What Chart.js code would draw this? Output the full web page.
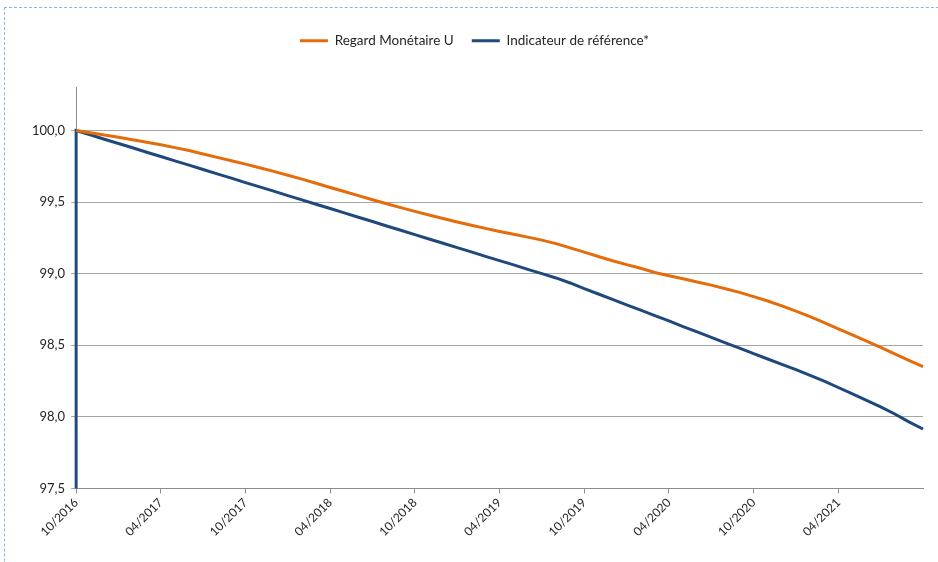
<!DOCTYPE html>
<html>
<head>
<meta charset="utf-8">
<script src="https://cdn.jsdelivr.net/npm/chart.js@4.4.1/dist/chart.umd.min.js"></script>
<style>
  html, body { margin: 0; padding: 0; background: #fff; }
  #wrap { position: relative; width: 938px; height: 562px; overflow: hidden; }
  #frame { position: absolute; left: 4px; top: 7px; width: 1000px; height: 700px;
           border-top: 1px dashed #8db3e2; border-left: 1px dashed #8db3e2; box-sizing: border-box; }
  canvas { position: absolute; left: 0; top: 0; }
</style>
</head>
<body>
<div id="wrap">
  <div id="frame"></div>
  <canvas id="chart" width="938" height="562"></canvas>
</div>
<script>
// Monthly labels, 10/2016 to 10/2021 (one per month)
const months = [
  '10/2016','11/2016','12/2016','01/2017','02/2017','03/2017','04/2017','05/2017','06/2017','07/2017','08/2017','09/2017',
  '10/2017','11/2017','12/2017','01/2018','02/2018','03/2018','04/2018','05/2018','06/2018','07/2018','08/2018','09/2018',
  '10/2018','11/2018','12/2018','01/2019','02/2019','03/2019','04/2019','05/2019','06/2019','07/2019','08/2019','09/2019',
  '10/2019','11/2019','12/2019','01/2020','02/2020','03/2020','04/2020','05/2020','06/2020','07/2020','08/2020','09/2020',
  '10/2020','11/2020','12/2020','01/2021','02/2021','03/2021','04/2021','05/2021','06/2021','07/2021','08/2021','09/2021',
  '10/2021'
];

// Regard Monétaire U (base 100)
const fundValues = [
  100.00, 99.984, 99.968, 99.952, 99.935, 99.918, 99.90, 99.88, 99.86, 99.836, 99.812, 99.789,
  99.765, 99.74, 99.714, 99.687, 99.66, 99.631, 99.602, 99.574, 99.545, 99.516, 99.488, 99.461,
  99.435, 99.41, 99.385, 99.361, 99.338, 99.316, 99.295, 99.275, 99.255, 99.234, 99.21, 99.18,
  99.15, 99.12, 99.09, 99.063, 99.038, 99.008, 98.985, 98.964, 98.942, 98.92, 98.895, 98.869,
  98.84, 98.809, 98.775, 98.739, 98.70, 98.658, 98.615, 98.572, 98.529, 98.485, 98.44, 98.395,
  98.35
];

// Indicateur de référence* (base 100)
const benchmarkValues = [
  100.00, 99.97, 99.939, 99.909, 99.879, 99.848, 99.818, 99.788, 99.758, 99.727, 99.697, 99.667,
  99.636, 99.606, 99.576, 99.545, 99.515, 99.485, 99.455, 99.424, 99.394, 99.364, 99.333, 99.303,
  99.273, 99.242, 99.212, 99.182, 99.152, 99.121, 99.091, 99.061, 99.03, 99.00, 98.97, 98.935,
  98.895, 98.858, 98.82, 98.782, 98.745, 98.707, 98.67, 98.63, 98.593, 98.555, 98.517, 98.48,
  98.442, 98.404, 98.366, 98.33, 98.29, 98.25, 98.205, 98.16, 98.115, 98.07, 98.02, 97.965,
  97.915
];
// The benchmark row opens with an empty (zero) value on the first date
const benchmarkOpening = 0;

const tickLabelEvery = 6;
const font = "Lato, 'Liberation Sans', sans-serif";

const fundPoints = fundValues.map((v, i) => ({ x: i, y: v }));
const benchmarkPoints = [{ x: 0, y: benchmarkOpening }].concat(benchmarkValues.map((v, i) => ({ x: i, y: v })));

Chart.defaults.font.family = font;
Chart.defaults.font.size = 13;
Chart.defaults.color = '#262626';

// extra room between the legend and the plot
const legendGap = {
  id: 'legendGap',
  beforeInit(chart) {
    const fit = chart.legend.fit;
    chart.legend.fit = function () {
      fit.bind(chart.legend)();
      this.height += 30;
    };
  }
};

new Chart(document.getElementById('chart'), {
  type: 'line',
  plugins: [legendGap],
  data: {
    datasets: [
      { label: 'Regard Monétaire U', data: fundPoints, borderColor: '#E46C0A', backgroundColor: '#E46C0A',
        borderWidth: 3, pointRadius: 0, tension: 0, clip: { left: 2, right: 2, top: 2, bottom: 0 } },
      { label: 'Indicateur de référence*', data: benchmarkPoints, borderColor: '#1F497D', backgroundColor: '#1F497D',
        borderWidth: 3, pointRadius: 0, tension: 0, clip: { left: 2, right: 2, top: 2, bottom: 0 } }
    ]
  },
  options: {
    responsive: false,
    animation: false,
    layout: { padding: { top: 16, right: 15, bottom: 21, left: 26 } },
    plugins: {
      tooltip: { enabled: false },
      legend: {
        position: 'top',
        labels: { usePointStyle: true, pointStyle: 'line', pointStyleWidth: 28, padding: 18,
                  font: { size: 13.5 }, color: '#262626' }
      }
    },
    scales: {
      x: {
        type: 'linear', min: 0, max: months.length - 1,
        grid: { drawOnChartArea: false, tickLength: 5,
                color: ctx => (ctx.tick && ctx.tick.value >= months.length - 1) ? 'rgba(0,0,0,0)' : '#8c8c8c' },
        border: { color: '#8c8c8c', width: 1 },
        ticks: { stepSize: tickLabelEvery, autoSkip: false, maxRotation: 45, minRotation: 45, padding: 2,
                 font: { size: 12 }, color: '#262626',
                 callback: v => (v < months.length - 1 && v % tickLabelEvery === 0) ? months[v] : '' }
      },
      y: {
        min: 97.5, max: 100.3,
        afterBuildTicks: scale => { scale.ticks = scale.ticks.filter(t => t.value <= 100.0001); },
        grid: { color: '#a6a6a6', tickLength: 5, lineWidth: 1 },
        border: { color: '#8c8c8c', width: 1 },
        ticks: { stepSize: 0.5, padding: 6, font: { size: 13 }, color: '#262626',
                 callback: v => v.toFixed(1).replace('.', ',') }
      }
    }
  }
});
</script>
</body>
</html>
